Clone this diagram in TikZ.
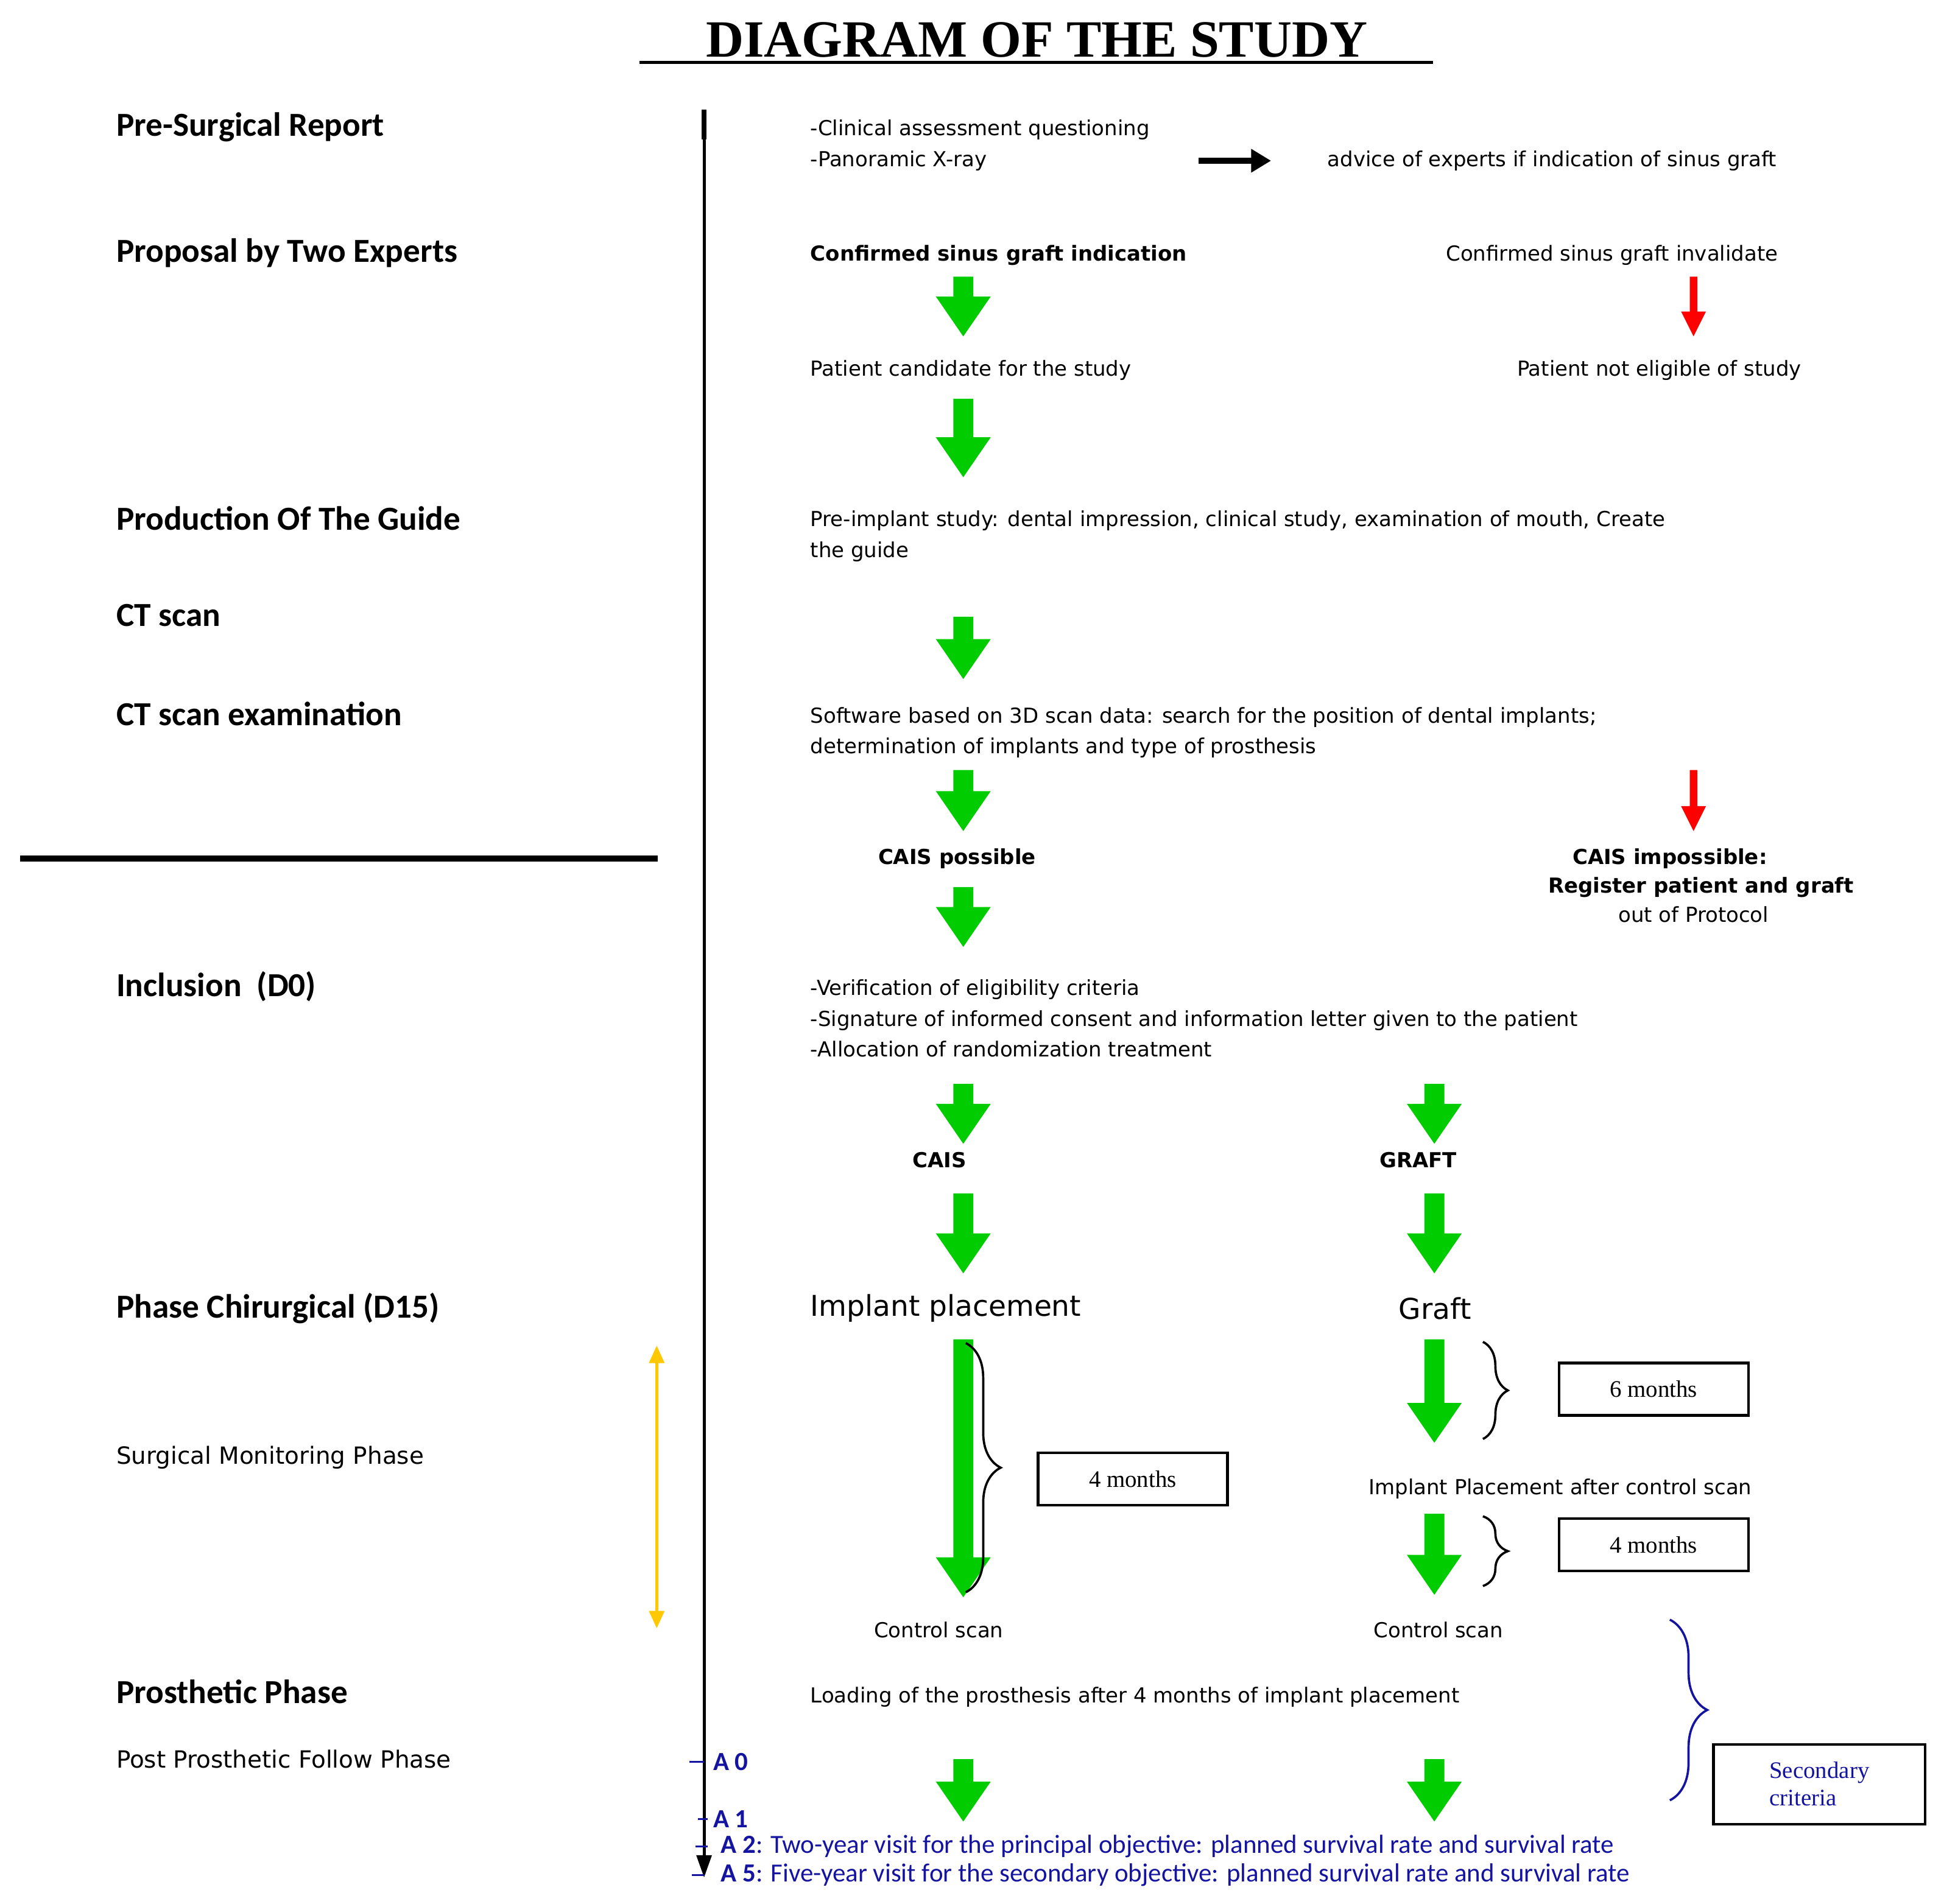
\documentclass[tikz,border=0pt]{standalone}
\usepackage{fontspec}
\setmainfont{DejaVu Sans}
\newfontfamily\carlf{Carlito}
\newfontfamily\tnrf{Liberation Serif}
\usetikzlibrary{arrows.meta,decorations.pathreplacing}
\definecolor{gr}{RGB}{0,204,0}
\definecolor{bl}{RGB}{20,20,160}
\definecolor{yel}{RGB}{255,200,0}
\newcommand\gArr[3]{\fill[gr] (#1-8,#2)--(#1+8,#2)--(#1+8,#3-32)--(#1+22,#3-32)--(#1,#3)--(#1-22,#3-32)--(#1-8,#3-32)--cycle;}
\newcommand\rArr[3]{\fill[red] (#1-3,#2)--(#1+3,#2)--(#1+3,#3-20)--(#1+10,#3-20)--(#1,#3)--(#1-10,#3-20)--(#1-3,#3-20)--cycle;}
\begin{document}
\begin{tikzpicture}[x=0.5pt,y=-0.5pt,
 head/.style={anchor=west,inner sep=0,font=\carlf\bfseries\fontsize{13.5}{16}\selectfont},
 lab/.style={anchor=west,inner sep=0,font=\fontsize{8.3}{10}\selectfont},
 labb/.style={lab,font=\fontsize{8.3}{10}\selectfont\bfseries},
 big/.style={anchor=west,inner sep=0,font=\fontsize{11.5}{14}\selectfont},
 box/.style={draw,line width=1pt,minimum width=76pt,minimum height=21pt,font=\tnrf\fontsize{9.5}{11}\selectfont},
 blu/.style={anchor=west,inner sep=0,text=bl,font=\carlf\fontsize{10.5}{12}\selectfont},
 brace/.style={decorate,decoration={brace,amplitude=#1},line width=0.9pt}]
\useasboundingbox (0,0) rectangle (1560,1528);
% title
\node[inner sep=0,font=\tnrf\bfseries\fontsize{21}{24}\selectfont] (title) at (832,32) {DIAGRAM OF THE STUDY};
\draw[line width=1.3pt] (513,50)--(1150,50);
% left headings
\node[head] (h1) at (93,102) {Pre-Surgical Report};
\node[head] (h2) at (93,203) {Proposal by Two Experts};
\node[head] (h3) at (93,416) {Production Of The Guide};
\node[head] (h4) at (93,494) {CT scan};
\node[head] (h5) at (93,573) {CT scan examination};
\node[head] (h6) at (93,792) {Inclusion\ \ (D0)};
\node[head] (h7) at (93,1050) {Phase Chirurgical (D15)};
\node[lab,font=\fontsize{9.5}{11}\selectfont] (h8) at (93,1170) {Surgical Monitoring Phase};
\node[head] (h9) at (93,1358) {Prosthetic Phase};
\node[lab,font=\fontsize{9.5}{11}\selectfont] (h10) at (93,1412) {Post Prosthetic Follow Phase};
\draw[line width=2.6pt] (16,689)--(528,689);
% timeline
\coordinate (t0) at (565,88); \coordinate (t1) at (565,1507);
\draw[line width=1.2pt,-{Triangle[length=9pt,width=6pt]}] (t0)--(t1);
\draw[line width=2pt] (565,88)--(565,112);
\coordinate (y0) at (527,1080); \coordinate (y1) at (527,1307);
\draw[yel,line width=1.2pt,{Triangle[length=7pt,width=6pt]}-{Triangle[length=7pt,width=6pt]}] (y0)--(y1);
% right column
\node[lab] (a1) at (650,104) {-Clinical assessment questioning};
\node[lab] (a2) at (650,129) {-Panoramic X-ray};
\node[lab] (a3) at (1065,129) {advice of experts if indication of sinus graft};
\draw[line width=2.6pt,-{Triangle[length=8pt,width=9pt]}] (962,129)--(1020,129);
\node[labb] (b1) at (650,205) {Confirmed sinus graft indication};
\node[lab] (b2) at (1160,205) {Confirmed sinus graft invalidate};
\gArr{773}{222}{270} \rArr{1359}{222}{270}
\node[lab] (c1) at (650,297) {Patient candidate for the study};
\node[lab] (c2) at (1217,297) {Patient not eligible of study};
\gArr{773}{320}{383}
\node[lab] (d1) at (650,418) {Pre-implant study: dental impression, clinical study, examination of mouth, Create};
\node[lab] (d2) at (650,443) {the guide};
\gArr{773}{495}{545}
\node[lab] (e1) at (650,576) {Software based on 3D scan data: search for the position of dental implants;};
\node[lab] (e2) at (650,600) {determination of implants and type of prosthesis};
\gArr{773}{618}{667} \rArr{1359}{618}{667}
\node[labb,anchor=center] (f1) at (768,689) {CAIS possible};
\node[labb,anchor=center] (f2) at (1340,689) {CAIS impossible:};
\node[labb,anchor=center] (f3) at (1365,712) {Register patient and graft};
\node[lab,anchor=center] (f4) at (1359,734) {out of Protocol};
\gArr{773}{712}{760}
\node[lab] (g1) at (650,794) {-Verification of eligibility criteria};
\node[lab] (g2) at (650,819) {-Signature of informed consent and information letter given to the patient};
\node[lab] (g3) at (650,842) {-Allocation of randomization treatment};
\gArr{773}{870}{918} \gArr{1151}{870}{918}
\node[labb,anchor=center] (k1) at (754,931) {CAIS};
\node[labb,anchor=center] (k2) at (1138,931) {GRAFT};
\gArr{773}{958}{1022} \gArr{1151}{958}{1022}
\node[big] (m1) at (650,1050) {Implant placement};
\node[big] (m2) at (1122,1050) {Graft};
\gArr{773}{1075}{1282}
\draw[brace=14pt] (775,1078)--(775,1278);
\node[box] (bx1) at (909,1187) {4 months};
\gArr{1151}{1075}{1158}
\draw[brace=10pt] (1190,1077)--(1190,1155);
\node[box] (bx2) at (1327,1115) {6 months};
\node[lab] (n1) at (1098,1195) {Implant Placement after control scan};
\gArr{1151}{1215}{1280}
\draw[brace=10pt] (1190,1217)--(1190,1273);
\node[box] (bx3) at (1327,1240) {4 months};
\node[lab] (p1) at (701,1308) {Control scan};
\node[lab] (p2) at (1102,1308) {Control scan};
\node[lab] (q1) at (650,1362) {Loading of the prosthesis after 4 months of implant placement};
\draw[brace=15pt,bl] (1340,1300)--(1340,1445);
\node[box,minimum width=85pt,minimum height=32pt,text=bl,align=left] (bx4) at (1460,1432) {Secondary\\criteria};
\gArr{773}{1412}{1462} \gArr{1151}{1412}{1462}
\draw[bl,line width=0.6pt] (553,1414)--(565,1414) (560,1460)--(568,1460) (558,1482)--(568,1482) (555,1505)--(565,1505);
\node[blu,font=\carlf\bfseries\fontsize{10.5}{12}\selectfont] (r0) at (572,1414) {A 0};
\node[blu,font=\carlf\bfseries\fontsize{10.5}{12}\selectfont] (r1) at (572,1460) {A 1};
\node[blu] (r2) at (578,1482) {\textbf{A 2}: Two-year visit for the principal objective: planned survival rate and survival rate};
\node[blu] (r5) at (578,1505) {\textbf{A 5}: Five-year visit for the secondary objective: planned survival rate and survival rate};
\end{tikzpicture}
\end{document}
